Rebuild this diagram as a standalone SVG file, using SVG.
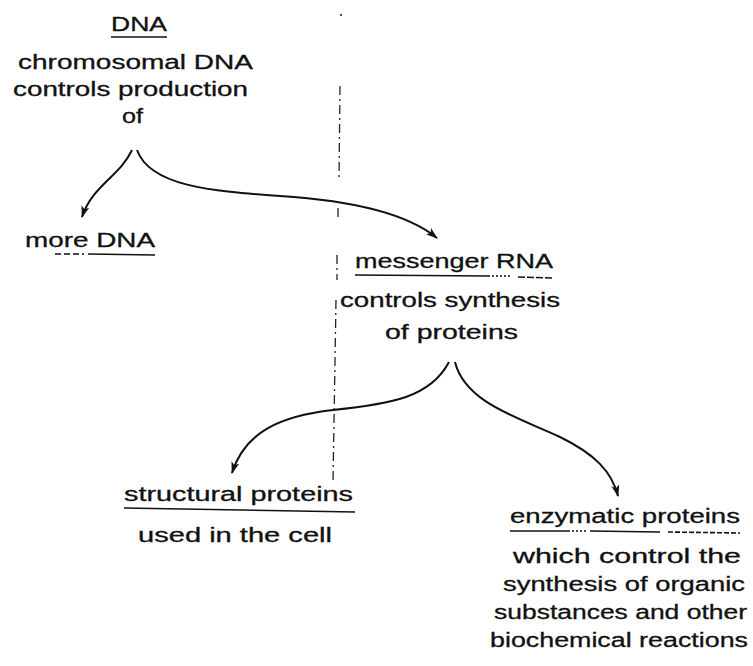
<svg xmlns="http://www.w3.org/2000/svg" width="753" height="666" viewBox="0 0 753 666">
<style>
.t{font-family:"Liberation Sans",Arial,Helvetica,sans-serif;font-size:20px;fill:#111;stroke:#111;stroke-width:0.3;}
.ul{stroke:#111;stroke-width:1.6;fill:none;}
.c{stroke:#111;stroke-width:2;fill:none;marker-end:url(#ah);}
.axis{stroke:#222;stroke-width:1.3;fill:none;stroke-dasharray:9 4 2 4;}
</style>
<defs>
<marker id="ah" viewBox="0 0 12 8" refX="11" refY="4" markerWidth="12" markerHeight="8" markerUnits="userSpaceOnUse" orient="auto">
<path d="M0,0 L12,4 L0,8 L3,4 Z" fill="#111"/>
</marker>
</defs>
<rect width="753" height="666" fill="#fff"/>

<g id="connectors">
<circle cx="341" cy="15" r="1.1" fill="#222"/>
<path class="axis" d="M340,86 L339,180"/>
<path class="axis" d="M338,208 L338,218"/>
<path class="axis" d="M337,255 L337,280"/>
<path class="axis" d="M336,300 L333,483"/>
<path class="c" d="M132,150 C120,176 92,186 82,217"/>
<path class="c" d="M137,150 C150,186 210,191 280,196 C360,201 410,216 437,238"/>
<path class="c" d="M449,362 C430,398 390,404 333,410 C280,416 245,432 232,473"/>
<path class="c" d="M455,362 C465,403 520,418 560,437 C595,454 612,472 618,496"/>
</g>

<g id="dna">
<text class="t" x="111" y="31" textLength="56" lengthAdjust="spacingAndGlyphs">DNA</text>
<line class="ul" x1="111" y1="37" x2="167" y2="37"/>
<text class="t" x="18" y="69" textLength="235" lengthAdjust="spacingAndGlyphs">chromosomal DNA</text>
<text class="t" x="13" y="96" textLength="235" lengthAdjust="spacingAndGlyphs">controls production</text>
<text class="t" x="122" y="123" textLength="21" lengthAdjust="spacingAndGlyphs">of</text>
</g>

<g id="more-dna">
<text class="t" x="25" y="247" textLength="130" lengthAdjust="spacingAndGlyphs">more DNA</text>
<line class="ul" x1="55" y1="254" x2="84" y2="254" stroke-dasharray="6 3"/>
<line class="ul" x1="88" y1="254" x2="155" y2="255"/>
</g>

<g id="messenger-rna">
<text class="t" x="355" y="268" textLength="198" lengthAdjust="spacingAndGlyphs">messenger RNA</text>
<line class="ul" x1="355" y1="275" x2="488" y2="276"/>
<line class="ul" x1="488" y1="276" x2="512" y2="276" stroke-dasharray="2 2"/>
<line class="ul" x1="518" y1="277" x2="553" y2="278" stroke-dasharray="7 2"/>
<text class="t" x="340" y="307" textLength="220" lengthAdjust="spacingAndGlyphs">controls synthesis</text>
<text class="t" x="385" y="339" textLength="133" lengthAdjust="spacingAndGlyphs">of proteins</text>
</g>

<g id="structural-proteins">
<text class="t" x="124" y="501" textLength="229" lengthAdjust="spacingAndGlyphs">structural proteins</text>
<line class="ul" x1="124" y1="508" x2="355" y2="512"/>
<text class="t" x="138" y="542" textLength="194" lengthAdjust="spacingAndGlyphs">used in the cell</text>
</g>

<g id="enzymatic-proteins">
<text class="t" x="510" y="523" textLength="230" lengthAdjust="spacingAndGlyphs">enzymatic proteins</text>
<line class="ul" x1="510" y1="531" x2="570" y2="531"/>
<line class="ul" x1="572" y1="531" x2="586" y2="531" stroke-dasharray="2 2"/>
<line class="ul" x1="590" y1="531" x2="660" y2="532"/>
<line class="ul" x1="668" y1="532" x2="740" y2="533" stroke-dasharray="5 2"/>
<text class="t" x="513" y="563" textLength="228" lengthAdjust="spacingAndGlyphs">which control the</text>
<text class="t" x="503" y="591" textLength="242" lengthAdjust="spacingAndGlyphs">synthesis of organic</text>
<text class="t" x="494" y="619" textLength="253" lengthAdjust="spacingAndGlyphs">substances and other</text>
<text class="t" x="490" y="647" textLength="258" lengthAdjust="spacingAndGlyphs">biochemical reactions</text>
</g>
</svg>
